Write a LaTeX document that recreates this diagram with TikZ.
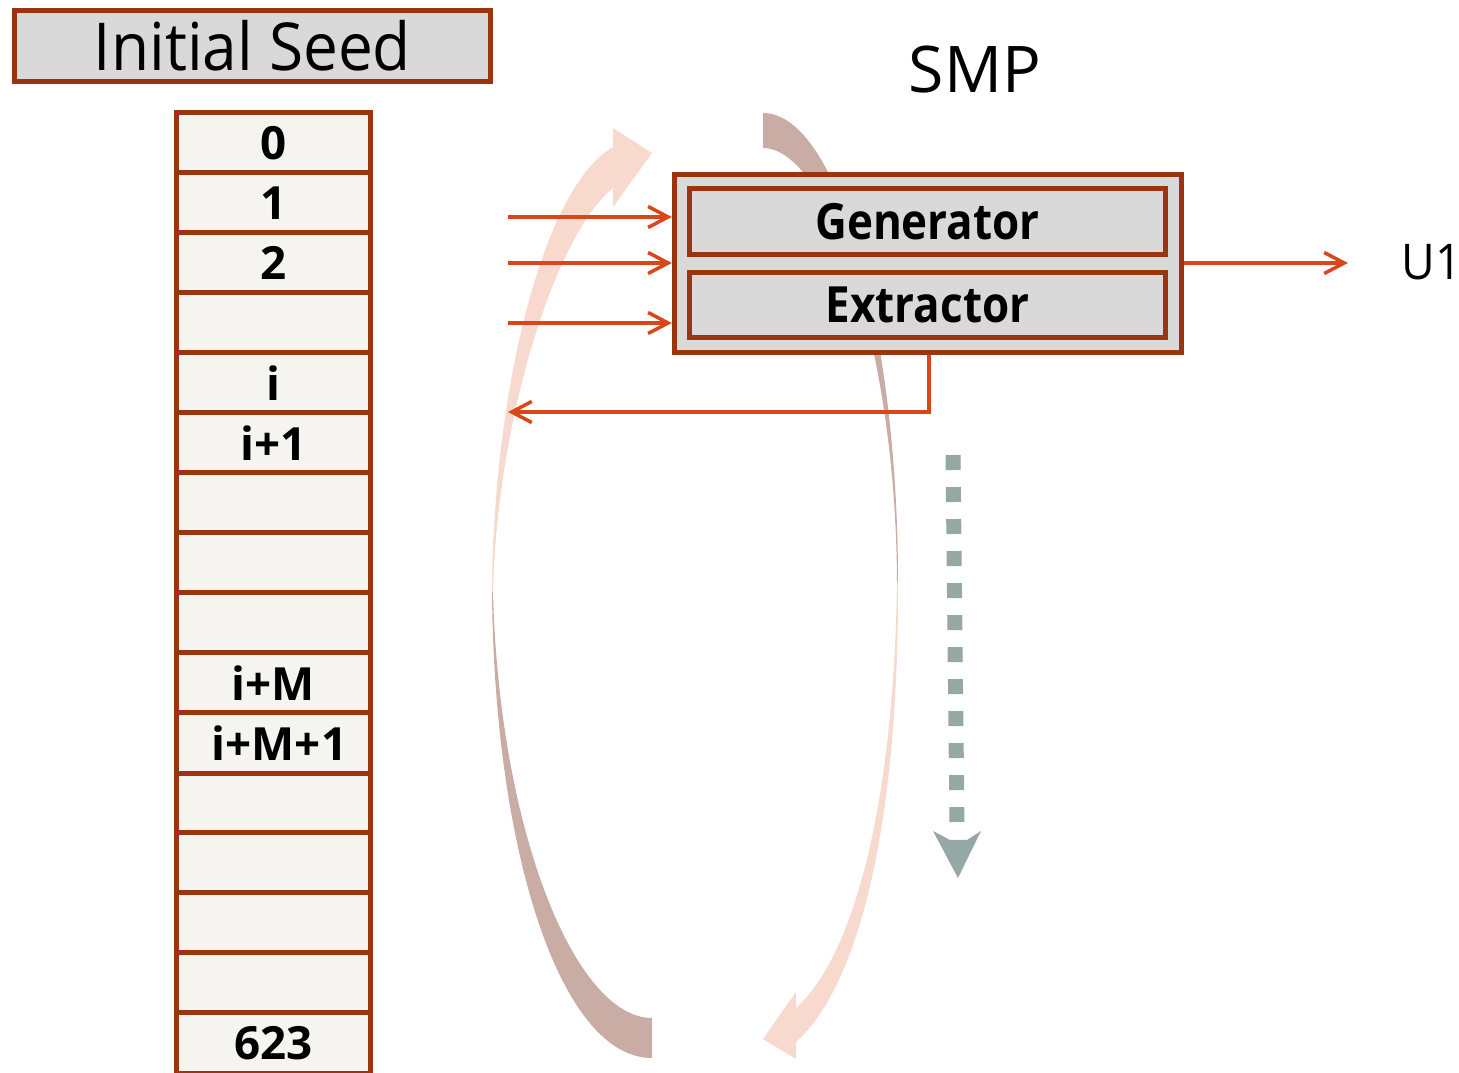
\documentclass[tikz,border=0pt]{standalone}
\usepackage{fontspec}
\setmainfont{Open Sans}
\newfontfamily\slimfont{Open Sans}[FakeStretch=0.94]
\newfontfamily\narrowfont{Open Sans}[FakeStretch=0.88]
\usetikzlibrary{arrows.meta}
\definecolor{rust}{HTML}{9C3311}
\definecolor{flame}{HTML}{D9461A}
\definecolor{panel}{HTML}{D9D9D9}
\definecolor{cellbg}{HTML}{F5F4F0}
\definecolor{swoosh}{HTML}{C9ADA5}
\definecolor{blush}{HTML}{F8D9CD}
\definecolor{slate}{HTML}{95A8A5}
\begin{document}
\begin{tikzpicture}[x=0.01cm,y=-0.01cm,
  panelbox/.style={draw=rust,fill=panel,line width=0.05cm,inner sep=0pt},
  cellbox/.style={draw=rust,fill=cellbg,line width=0.05cm,inner sep=0pt,
    minimum width=1.93cm,minimum height=0.6cm,font=\fontsize{13}{15}\selectfont\bfseries},
  unitbox/.style={panelbox,minimum width=4.76cm,font=\narrowfont\fontsize{14.2}{17}\selectfont\bfseries},
  flow/.style={draw=flame,line width=0.035cm,-{Straight Barb[length=2mm,width=2.1mm]}},
  dotflow/.style={draw=slate,line width=0.15cm,dash pattern=on 0.15cm off 0.17cm},
]
\useasboundingbox (0,0) rectangle (1459,1073);

% circulating swoosh arrows around the state array, tapering to a point midway
\fill[blush] (492,592) .. controls (493,400) and (540,190) .. (613,147)
  -- (613,128) -- (652,153) -- (613,207) -- (613,188)
  .. controls (555,235) and (497,420) .. (493,592) -- cycle;
\fill[swoosh] (492,592) .. controls (494,850) and (560,1058) .. (652,1058)
  -- (652,1018) .. controls (575,1018) and (499,830) .. (493,592) -- cycle;
\fill[swoosh] (763,113) .. controls (838,113) and (898,331) .. (898,582)
  -- (897,582) .. controls (896,345) and (827,148) .. (763,148) -- cycle;
\fill[blush] (898,582) .. controls (899,820) and (860,985) .. (796,1042)
  -- (796,1059) -- (763,1039) -- (796,992) -- (796,1008)
  .. controls (855,955) and (894,800) .. (897,582) -- cycle;

% seed header and state array
\node[panelbox,minimum width=4.76cm,minimum height=0.71cm,
  font=\slimfont\fontsize{18.8}{22}\selectfont] (seed) at (252.5,46) {Initial Seed};
\foreach \k/\t in {0/0,1/1,2/2,3/,4/i,5/i+1,6/,7/,8/,9/i+M,11/,12/,13/,14/,15/623}
  \node[cellbox] (c\k) at (273.5,{143+60*\k}) {\t};
\node[cellbox] (c10) at (273.5,743) {\hspace*{0.12cm}i+M+1};

% SMP block
\node[font=\fontsize{18.3}{20}\selectfont] (smplabel) at (975,70) {SMP};
\node[panelbox,minimum width=5.07cm,minimum height=1.78cm] (smp) at (928,263.5) {};
\node[unitbox,minimum height=0.66cm] (gen) at (927.5,221.5) {Generator};
\node[unitbox,minimum height=0.65cm] (ext) at (927.5,305) {Extractor};

% inputs, output and feedback
\coordinate (in1) at (508,217);
\coordinate (in2) at (508,263);
\coordinate (in3) at (508,323);
\draw[flow] (in1) -- (in1 -| smp.west);
\draw[flow] (in2) -- (in2 -| smp.west);
\draw[flow] (in3) -- (in3 -| smp.west);
\coordinate (out) at (1348,263);
\draw[flow] (smp.east |- out) -- (out);
\node[font=\slimfont\fontsize{14}{16}\selectfont,anchor=west,inner sep=0pt] (u1) at (1401,262) {U1};
\coordinate (fbturn) at (929,412);
\coordinate (fbend) at (508,412);
\draw[flow] (smp.south -| fbturn) -- (fbturn) -- (fbend);

% dotted progress arrow
\coordinate (dtop) at (953,455);
\coordinate (dend) at (957,822);
\draw[dotflow] (dtop) -- (dend);
\fill[slate] (933,831) -- (950,840) -- (967,840) -- (981,831) -- (958,878) -- cycle;
\end{tikzpicture}
\end{document}
